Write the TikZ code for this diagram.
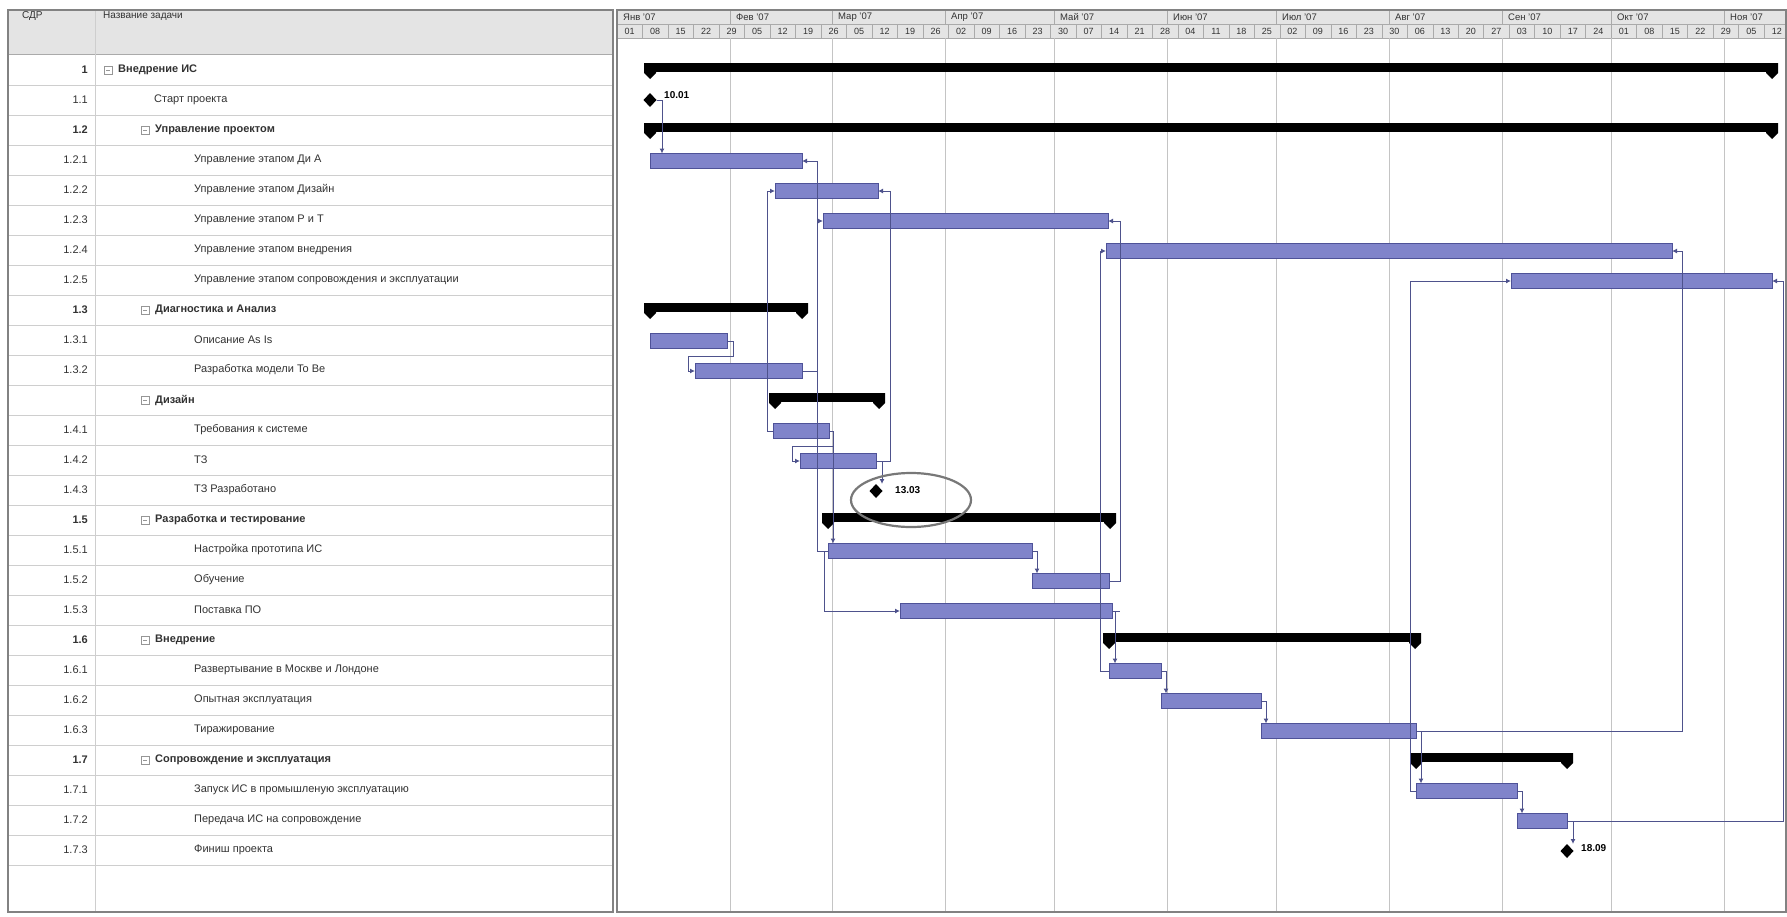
\documentclass[tikz,border=0pt]{standalone}
\usepackage{fontspec}
\setmainfont{Liberation Sans}
\usetikzlibrary{arrows.meta,shapes.geometric}

\definecolor{barfill}{RGB}{128,132,202}
\definecolor{barline}{RGB}{78,82,152}
\definecolor{linkcol}{RGB}{78,82,140}
\definecolor{gridcol}{RGB}{196,196,196}
\definecolor{rulecol}{RGB}{206,206,206}
\definecolor{headfill}{RGB}{228,228,228}
\definecolor{headline}{RGB}{170,170,170}
\definecolor{framecol}{RGB}{130,130,130}
\definecolor{txtcol}{RGB}{50,50,50}
\definecolor{boxcol}{RGB}{150,150,150}
\definecolor{ringcol}{RGB}{120,120,120}

\tikzset{
  taskbar/.style={draw=barline, fill=barfill, line width=0.8pt, minimum height=15pt,
                  inner sep=0pt, outer sep=0pt, anchor=west},
  sumbody/.style={fill=black, minimum height=9pt, inner sep=0pt, outer sep=0pt, anchor=west},
  mile/.style={diamond, fill=black, minimum width=13pt, minimum height=14pt, inner sep=0pt, outer sep=0pt},
  link/.style={draw=linkcol, line width=1pt, -{Latex[length=5pt,width=5pt]}},
  plainlink/.style={draw=linkcol, line width=1pt},
  numtxt/.style={anchor=east, text=txtcol, inner sep=0pt},
  nametxt/.style={anchor=west, text=txtcol, inner sep=0pt},
  weektxt/.style={text=txtcol, inner sep=0pt, font=\fontsize{9}{10}\selectfont},
  monthtxt/.style={anchor=west, text=txtcol, inner sep=0pt, font=\fontsize{9.5}{10}\selectfont},
  miletxt/.style={anchor=west, inner sep=0pt, font=\fontsize{10}{11}\selectfont\bfseries},
  headtxt/.style={anchor=west, text=txtcol, inner sep=0pt, font=\fontsize{10}{11}\selectfont},
  boldtxt/.style={font=\fontsize{11}{13}\selectfont\bfseries},
}

% task bar: name, row centre y, start x, end x
\newcommand\tbar[4]{\node[taskbar, minimum width={#4-#3}] (#1) at (#3,{#2+1}) {};}
% summary bar with end caps: name, row centre y, start x, end x
\newcommand\sbar[4]{%
  \node[sumbody, minimum width={#4-#3+12}] (#1) at ({#3-6},{#2-2.5}) {};
  \fill ({#3-6},{#2-7}) -- ({#3+6},{#2-7}) -- ({#3+6},{#2+3}) -- (#3,{#2+9}) -- ({#3-6},{#2+3}) -- cycle;
  \fill ({#4-6},{#2-7}) -- ({#4+6},{#2-7}) -- ({#4+6},{#2+3}) -- (#4,{#2+9}) -- ({#4-6},{#2+3}) -- cycle;}
% collapse box of a summary row: x centre, y centre
\newcommand\cbox[2]{%
  \draw[boxcol, line width=0.7pt, fill=white] ({#1-4},{#2-4}) rectangle ({#1+4},{#2+4});
  \draw[boxcol, line width=0.7pt] ({#1-2},#2) -- ({#1+2},#2);}

\begin{document}
\begin{tikzpicture}[x=1pt, y=-1pt, font=\fontsize{11}{13}\selectfont]
\useasboundingbox (0,0) rectangle (1787,916);
\fill[white] (0,0) rectangle (1787,916);

% ---------- headers ----------
\fill[headfill] (8,10) rectangle (613,54);
\fill[headfill] (617,10) rectangle (1786,38);
\draw[headline] (8,54) -- (613,54);
\node[headtxt] (hcode) at (22,16) {СДР};
\node[headtxt] (hname) at (103,16) {Название задачи};

% timescale: months on top, weeks below
\draw[headline] (617,24) -- (1786,24);
\draw[headline] (617,38) -- (1786,38);
\foreach \mx/\mt [count=\j] in {617/Янв '07,730/Фев '07,832/Мар '07,945/Апр '07,1054/Май '07,1167/Июн '07,
   1276/Июл '07,1389/Авг '07,1502/Сен '07,1611/Окт '07,1724/Ноя '07}{
  \draw[headline] (\mx,10) -- (\mx,24);
  \node[monthtxt] (mon\j) at ({\mx+6},17) {\mt};
}
\foreach \w [count=\i from 0] in {01,08,15,22,29,05,12,19,26,05,12,19,26,02,09,16,23,30,07,14,21,28,
   04,11,18,25,02,09,16,23,30,06,13,20,27,03,10,17,24,01,08,15,22,29,05,12}{
  \draw[headline] ({617+25.49*\i},24) -- ({617+25.49*\i},38);
  \node[weektxt] (wk\i) at ({617+25.49*\i+12.7},31) {\w};
}

% ---------- table grid ----------
\foreach \k in {1,...,27} \draw[rulecol] (8,{55+30*\k}) -- (613,{55+30*\k});
\draw[rulecol] (95,10) -- (95,912);

% ---------- chart grid ----------
\foreach \mx in {730,832,945,1054,1167,1276,1389,1502,1611,1724}
  \draw[gridcol] (\mx,38) -- (\mx,912);

% frames
\draw[framecol, line width=1.4pt] (8,10) rectangle (613,912);
\draw[framecol, line width=1.4pt] (617,10) rectangle (1786,912);

% ---------- task list ----------
\node[numtxt, boldtxt] (n1) at (88,70) {1};
\cbox{108}{70}
\node[nametxt, boldtxt] (a1) at (118,70) {Внедрение ИС};
\node[numtxt] (n2) at (88,100) {1.1};
\node[nametxt] (a2) at (154,100) {Старт проекта};
\node[numtxt, boldtxt] (n3) at (88,130) {1.2};
\cbox{145}{130}
\node[nametxt, boldtxt] (a3) at (155,130) {Управление проектом};
\node[numtxt] (n4) at (88,160) {1.2.1};
\node[nametxt] (a4) at (194,160) {Управление этапом Ди А};
\node[numtxt] (n5) at (88,190) {1.2.2};
\node[nametxt] (a5) at (194,190) {Управление этапом Дизайн};
\node[numtxt] (n6) at (88,220) {1.2.3};
\node[nametxt] (a6) at (194,220) {Управление этапом Р и Т};
\node[numtxt] (n7) at (88,250) {1.2.4};
\node[nametxt] (a7) at (194,250) {Управление этапом внедрения};
\node[numtxt] (n8) at (88,280) {1.2.5};
\node[nametxt] (a8) at (194,280) {Управление этапом сопровождения и эксплуатации};
\node[numtxt, boldtxt] (n9) at (88,310) {1.3};
\cbox{145}{310}
\node[nametxt, boldtxt] (a9) at (155,310) {Диагностика и Анализ};
\node[numtxt] (n10) at (88,340) {1.3.1};
\node[nametxt] (a10) at (194,340) {Описание As Is};
\node[numtxt] (n11) at (88,370) {1.3.2};
\node[nametxt] (a11) at (194,370) {Разработка модели To Be};
\cbox{145}{400}
\node[nametxt, boldtxt] (a12) at (155,400) {Дизайн};
\node[numtxt] (n13) at (88,430) {1.4.1};
\node[nametxt] (a13) at (194,430) {Требования к системе};
\node[numtxt] (n14) at (88,460) {1.4.2};
\node[nametxt] (a14) at (194,460) {ТЗ};
\node[numtxt] (n15) at (88,490) {1.4.3};
\node[nametxt] (a15) at (194,490) {ТЗ Разработано};
\node[numtxt, boldtxt] (n16) at (88,520) {1.5};
\cbox{145}{520}
\node[nametxt, boldtxt] (a16) at (155,520) {Разработка и тестирование};
\node[numtxt] (n17) at (88,550) {1.5.1};
\node[nametxt] (a17) at (194,550) {Настройка прототипа ИС};
\node[numtxt] (n18) at (88,580) {1.5.2};
\node[nametxt] (a18) at (194,580) {Обучение};
\node[numtxt] (n19) at (88,610) {1.5.3};
\node[nametxt] (a19) at (194,610) {Поставка ПО};
\node[numtxt, boldtxt] (n20) at (88,640) {1.6};
\cbox{145}{640}
\node[nametxt, boldtxt] (a20) at (155,640) {Внедрение};
\node[numtxt] (n21) at (88,670) {1.6.1};
\node[nametxt] (a21) at (194,670) {Развертывание в Москве и Лондоне};
\node[numtxt] (n22) at (88,700) {1.6.2};
\node[nametxt] (a22) at (194,700) {Опытная эксплуатация};
\node[numtxt] (n23) at (88,730) {1.6.3};
\node[nametxt] (a23) at (194,730) {Тиражирование};
\node[numtxt, boldtxt] (n24) at (88,760) {1.7};
\cbox{145}{760}
\node[nametxt, boldtxt] (a24) at (155,760) {Сопровождение и эксплуатация};
\node[numtxt] (n25) at (88,790) {1.7.1};
\node[nametxt] (a25) at (194,790) {Запуск ИС в промышленую эксплуатацию};
\node[numtxt] (n26) at (88,820) {1.7.2};
\node[nametxt] (a26) at (194,820) {Передача ИС на сопровождение};
\node[numtxt] (n27) at (88,850) {1.7.3};
\node[nametxt] (a27) at (194,850) {Финиш проекта};

% ---------- bars ----------
\sbar{s1}{70}{650}{1772}
\node[mile] (m11) at (650,100) {};
\sbar{s12}{130}{650}{1772}
\tbar{t121}{160}{650}{802}
\tbar{t122}{190}{775}{878}
\tbar{t123}{220}{823}{1108}
\tbar{t124}{250}{1106}{1672}
\tbar{t125}{280}{1511}{1772}
\sbar{s13}{310}{650}{802}
\tbar{t131}{340}{650}{727}
\tbar{t132}{370}{695}{802}
\sbar{s14}{400}{775}{879}
\tbar{t141}{430}{773}{829}
\tbar{t142}{460}{800}{876}
\node[mile] (m143) at (876,491) {};
\sbar{s15}{520}{828}{1110}
\tbar{t151}{550}{828}{1032}
\tbar{t152}{580}{1032}{1109}
\tbar{t153}{610}{900}{1112}
\sbar{s16}{640}{1109}{1415}
\tbar{t161}{670}{1109}{1161}
\tbar{t162}{700}{1161}{1261}
\tbar{t163}{730}{1261}{1416}
\sbar{s17}{760}{1416}{1567}
\tbar{t171}{790}{1416}{1517}
\tbar{t172}{820}{1517}{1567}
\node[mile] (m173) at (1567,851) {};

% milestone dates
\node[miletxt] (d11) at (664,95) {10.01};
\node[miletxt] (d143) at (895,490) {13.03};
\node[miletxt] (d173) at (1581,848) {18.09};

% ---------- links ----------
\coordinate (v767) at (767,0);
\coordinate (v817) at (817,0);
\coordinate (v890) at (890,0);
\coordinate (v1100) at (1100,0);
\coordinate (v1120) at (1120,0);
\coordinate (v1410) at (1410,0);
\coordinate (v1682) at (1682,0);
\coordinate (v1783) at (1783,0);

\draw[link] (m11.east) -| ([xshift=12pt]t121.north west);
\draw[link] (t132.east) -- (t132.east -| v817) |- (t121.east);
\draw[link] (t151.west) -- (t151.west -| v817) |- (t123.west);
\draw[link] (t141.west) -- (t141.west -| v767) |- (t122.west);
\draw[link] (t142.east) -- (t142.east -| v890) |- (t122.east);
\draw[link] (t131.east) -- ++(6,0) -- ++(0,15) -| ([xshift=-7pt]t132.west) -- (t132.west);
\draw[link] (t141.east) -- ++(4,0) -- ++(0,15) -| ([xshift=-8pt]t142.west) -- (t142.west);
\draw[link] (t141.east) -| ([xshift=5pt]t151.north west);
\draw[link] (t142.east) -| ([xshift=6pt]m143.north);
\draw[link] (t151.west) -- ++(-4,0) |- (t153.west);
\draw[link] (t151.east) -| ([xshift=5pt]t152.north west);
\draw[link] (t152.east) -- (t152.east -| v1120) |- (t123.east);
\draw[plainlink] (t153.east) -- (t153.east -| v1120);
\draw[link] (t153.east) -| ([xshift=6pt]t161.north west);
\draw[link] (t161.west) -- (t161.west -| v1100) |- (t124.west);
\draw[link] (t161.east) -| ([xshift=5pt]t162.north west);
\draw[link] (t162.east) -| ([xshift=5pt]t163.north west);
\draw[link] (t163.east) -| ([xshift=5pt]t171.north west);
\draw[link] (t163.east) -- (t163.east -| v1682) |- (t124.east);
\draw[link] (t171.west) -- (t171.west -| v1410) |- (t125.west);
\draw[link] (t171.east) -| ([xshift=5pt]t172.north west);
\draw[link] (t172.east) -| ([xshift=6pt]m173.north);
\draw[link] (t172.east) -- (t172.east -| v1783) |- (t125.east);

% highlight round the design milestone
\node[ellipse, draw=ringcol, line width=2.2pt, minimum width=120pt, minimum height=54pt] (ring) at (911,500) {};
\end{tikzpicture}
\end{document}
